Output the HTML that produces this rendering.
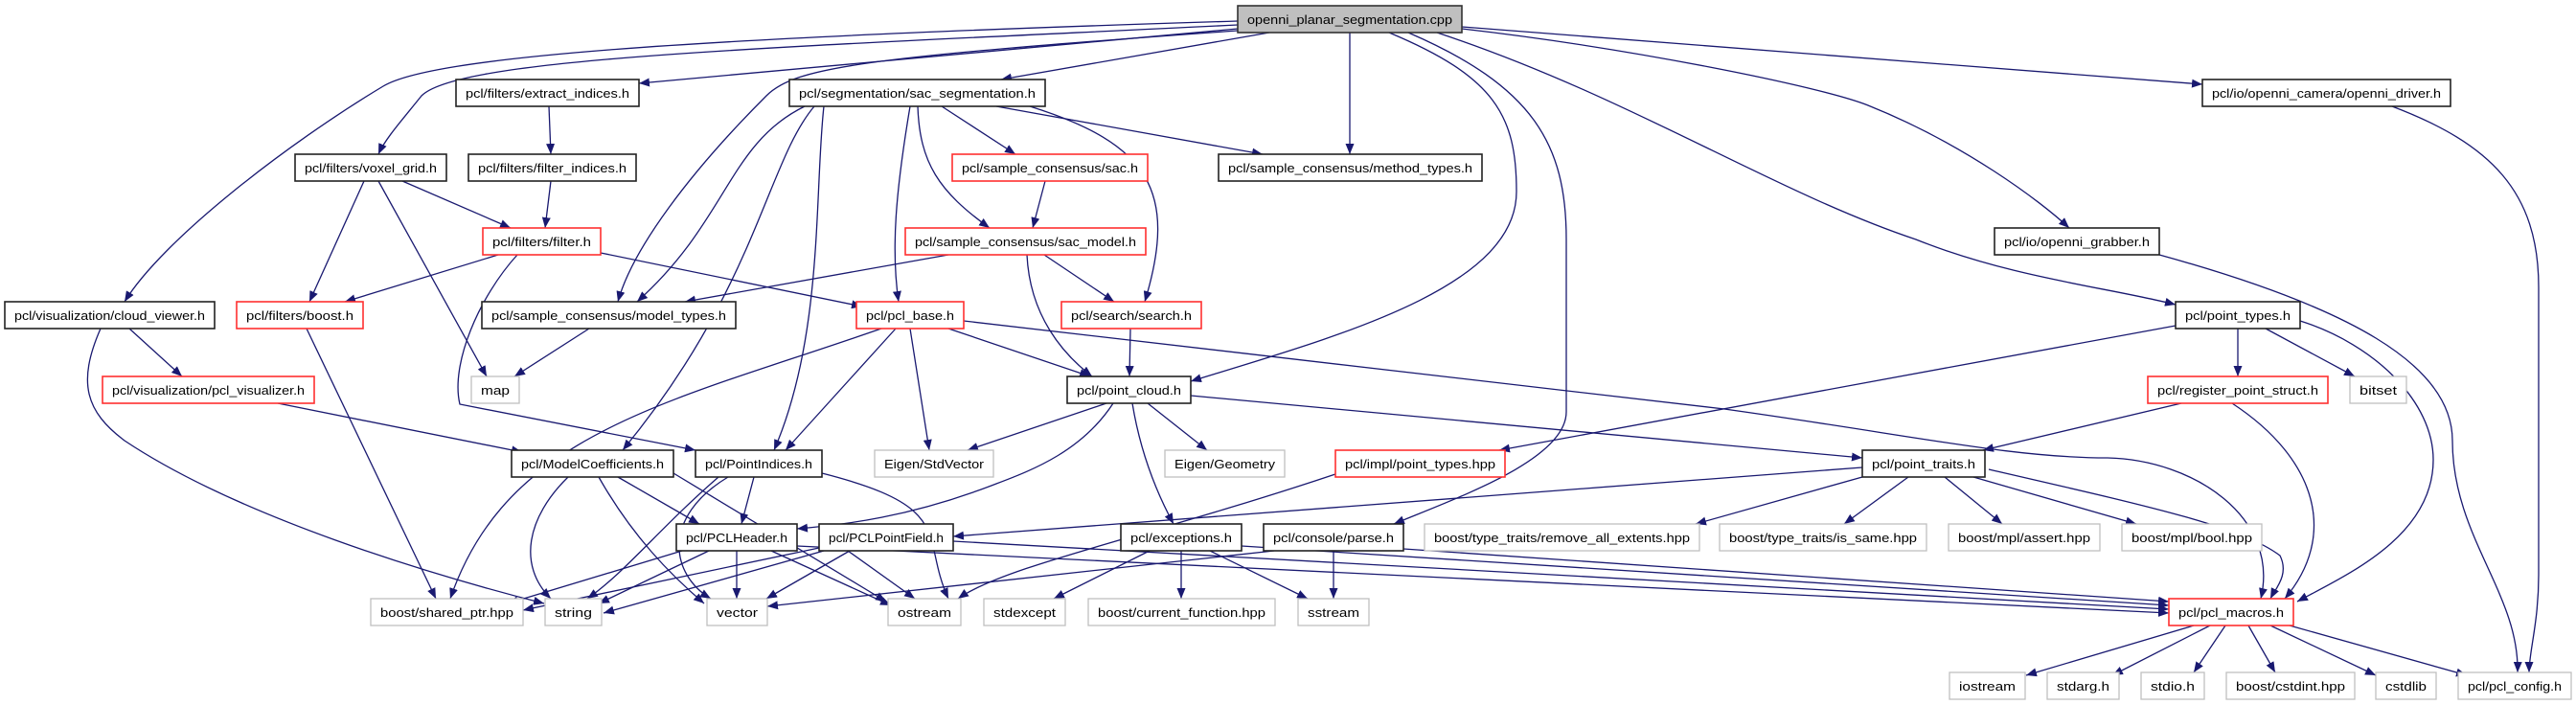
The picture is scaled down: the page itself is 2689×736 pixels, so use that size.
<!DOCTYPE html>
<html><head><meta charset="utf-8"><style>
html,body{margin:0;padding:0;background:#fff;}
svg{display:block;}
text{font-family:"Liberation Sans",sans-serif;font-size:13px;fill:#000;}
.e path{fill:none;stroke:#191970;stroke-width:1.3;marker-end:url(#a);}
.n rect{fill:#fff;stroke:#222;stroke-width:1.6;}
.n rect.r{stroke:#ff3030;}
.n rect.g{stroke:#bfbfbf;stroke-width:1.3;}
.n rect.root{fill:#bfbfbf;stroke:#333;}
</style></head><body>
<svg width="2689" height="736" viewBox="0 0 2689 736" xmlns="http://www.w3.org/2000/svg">
<defs><marker id="a" markerWidth="11" markerHeight="9" refX="11" refY="4.5" orient="auto" markerUnits="userSpaceOnUse"><path d="M0,0 L11,4.5 L0,9z" fill="#191970"/></marker></defs>
<g class="e">
<path d="M1292,22 C700,40 450,60 400,90 C300,150 170,250 130,315"/>
<path d="M1292,26 C800,50 480,60 440,100 C420,125 402,145 395,161"/>
<path d="M1292,30 L667,87"/>
<path d="M1292,32 C900,60 830,70 800,100 C720,180 660,260 645,315"/>
<path d="M1325,34 L1045,83"/>
<path d="M1409,34 L1409,161"/>
<path d="M1450,34 C1560,80 1583,120 1583,200 C1583,300 1400,350 1243,398"/>
<path d="M1470,34 C1600,90 1635,150 1635,250 L1635,430 C1635,480 1520,520 1455,547"/>
<path d="M1500,34 C1700,100 1850,200 2000,250 C2100,290 2200,300 2271,318"/>
<path d="M1526,30 C1700,50 1900,90 1950,110 C2050,150 2130,210 2160,238"/>
<path d="M1526,28 L2299,88"/>
<path d="M840,111 C760,150 760,230 665,315"/>
<path d="M850,111 C800,170 790,300 650,470"/>
<path d="M860,111 C850,200 860,350 808,470"/>
<path d="M950,111 C935,200 930,260 938,315"/>
<path d="M983,111 L1060,161"/>
<path d="M958,111 C960,170 980,200 1033,238"/>
<path d="M1075,111 C1200,150 1230,200 1195,315"/>
<path d="M1040,111 L1318,161"/>
<path d="M573,111 L575,161"/>
<path d="M575,189 L569,238"/>
<path d="M380,189 L323,315"/>
<path d="M395,189 L508,393"/>
<path d="M420,189 L533,238"/>
<path d="M520,266 L360,315"/>
<path d="M540,266 C500,310 470,380 480,422 L726,470"/>
<path d="M627,264 L900,320"/>
<path d="M1091,189 L1078,238"/>
<path d="M990,266 L715,315"/>
<path d="M1072,266 C1075,330 1110,370 1140,393"/>
<path d="M1090,266 L1163,315"/>
<path d="M1180,343 L1179,393"/>
<path d="M920,343 C700,420 530,450 470,625"/>
<path d="M935,343 L820,470"/>
<path d="M950,343 L970,470"/>
<path d="M990,343 L1138,393"/>
<path d="M1006,335 L1800,427 C2000,455 2100,478 2200,478 C2290,480 2380,540 2360,625"/>
<path d="M615,343 L537,393"/>
<path d="M135,343 L190,393"/>
<path d="M105,343 C80,400 90,430 130,460 C250,540 450,600 568,630"/>
<path d="M320,343 L455,625"/>
<path d="M290,421 L545,472"/>
<path d="M1155,421 L1010,470"/>
<path d="M1162,421 C1130,470 1080,490 1040,505 C950,540 880,548 832,552"/>
<path d="M1182,421 C1190,470 1205,510 1225,547"/>
<path d="M1198,421 L1260,470"/>
<path d="M1243,413 L1944,478"/>
<path d="M2497,111 C2600,150 2650,200 2650,300 L2650,600 C2650,650 2640,680 2640,702"/>
<path d="M2254,266 C2450,320 2560,380 2560,460 C2560,560 2630,620 2628,702"/>
<path d="M2271,340 L1565,470"/>
<path d="M2336,343 L2336,393"/>
<path d="M2365,343 L2458,393"/>
<path d="M2401,335 C2480,360 2540,420 2540,480 C2540,560 2450,600 2398,628"/>
<path d="M2330,421 C2420,480 2440,560 2385,625"/>
<path d="M2277,421 L2070,470"/>
<path d="M1394,495 C1200,560 1050,590 1000,625"/>
<path d="M1944,488 L995,560"/>
<path d="M1944,498 L1770,547"/>
<path d="M1992,498 L1925,547"/>
<path d="M2030,498 L2090,547"/>
<path d="M2060,498 L2230,547"/>
<path d="M2076,490 C2250,530 2340,550 2380,580 C2390,600 2375,615 2370,625"/>
<path d="M645,498 L730,547"/>
<path d="M593,498 C550,540 540,590 575,625"/>
<path d="M625,498 C660,560 700,600 735,630"/>
<path d="M703,494 L925,628"/>
<path d="M787,498 L774,547"/>
<path d="M750,498 C690,550 650,600 613,625"/>
<path d="M760,498 C690,540 700,600 742,625"/>
<path d="M858,494 C1000,530 960,560 990,625"/>
<path d="M712,575 L530,630"/>
<path d="M740,575 L625,630"/>
<path d="M769,575 L769,625"/>
<path d="M805,575 L930,632"/>
<path d="M832,570 L2264,640"/>
<path d="M860,575 L630,640"/>
<path d="M887,575 L800,625"/>
<path d="M885,575 L955,625"/>
<path d="M855,572 L546,637"/>
<path d="M995,565 L2264,636"/>
<path d="M1200,575 L1100,625"/>
<path d="M1233,575 L1233,625"/>
<path d="M1263,575 L1365,625"/>
<path d="M1296,570 L2264,632"/>
<path d="M1330,575 L801,633"/>
<path d="M1392,575 L1392,625"/>
<path d="M1465,573 L2264,628"/>
<path d="M2290,653 L2115,705"/>
<path d="M2307,653 L2205,705"/>
<path d="M2323,653 L2290,702"/>
<path d="M2347,653 L2375,702"/>
<path d="M2370,653 L2480,705"/>
<path d="M2390,653 L2575,705"/>
</g>
<g class="n">
<rect class="root" x="1292" y="6" width="234" height="28"/><text x="1409" y="25" text-anchor="middle" textLength="214" lengthAdjust="spacingAndGlyphs">openni_planar_segmentation.cpp</text>
<rect x="476" y="83" width="191" height="28"/><text x="571.5" y="102" text-anchor="middle" textLength="171" lengthAdjust="spacingAndGlyphs">pcl/filters/extract_indices.h</text>
<rect x="824" y="83" width="267" height="28"/><text x="957.5" y="102" text-anchor="middle" textLength="247" lengthAdjust="spacingAndGlyphs">pcl/segmentation/sac_segmentation.h</text>
<rect x="2299" y="83" width="259" height="28"/><text x="2428.5" y="102" text-anchor="middle" textLength="239" lengthAdjust="spacingAndGlyphs">pcl/io/openni_camera/openni_driver.h</text>
<rect x="308" y="161" width="158" height="28"/><text x="387" y="180" text-anchor="middle" textLength="138" lengthAdjust="spacingAndGlyphs">pcl/filters/voxel_grid.h</text>
<rect x="489" y="161" width="175" height="28"/><text x="576.5" y="180" text-anchor="middle" textLength="155" lengthAdjust="spacingAndGlyphs">pcl/filters/filter_indices.h</text>
<rect class="r" x="994" y="161" width="204" height="28"/><text x="1096" y="180" text-anchor="middle" textLength="184" lengthAdjust="spacingAndGlyphs">pcl/sample_consensus/sac.h</text>
<rect x="1272" y="161" width="275" height="28"/><text x="1409.5" y="180" text-anchor="middle" textLength="255" lengthAdjust="spacingAndGlyphs">pcl/sample_consensus/method_types.h</text>
<rect class="r" x="504" y="238" width="123" height="28"/><text x="565.5" y="257" text-anchor="middle" textLength="103" lengthAdjust="spacingAndGlyphs">pcl/filters/filter.h</text>
<rect class="r" x="945" y="238" width="251" height="28"/><text x="1070.5" y="257" text-anchor="middle" textLength="231" lengthAdjust="spacingAndGlyphs">pcl/sample_consensus/sac_model.h</text>
<rect x="2082" y="238" width="172" height="28"/><text x="2168" y="257" text-anchor="middle" textLength="152" lengthAdjust="spacingAndGlyphs">pcl/io/openni_grabber.h</text>
<rect x="5" y="315" width="219" height="28"/><text x="114.5" y="334" text-anchor="middle" textLength="199" lengthAdjust="spacingAndGlyphs">pcl/visualization/cloud_viewer.h</text>
<rect class="r" x="247" y="315" width="132" height="28"/><text x="313" y="334" text-anchor="middle" textLength="112" lengthAdjust="spacingAndGlyphs">pcl/filters/boost.h</text>
<rect x="503" y="315" width="265" height="28"/><text x="635.5" y="334" text-anchor="middle" textLength="245" lengthAdjust="spacingAndGlyphs">pcl/sample_consensus/model_types.h</text>
<rect class="r" x="894" y="315" width="112" height="28"/><text x="950" y="334" text-anchor="middle" textLength="92" lengthAdjust="spacingAndGlyphs">pcl/pcl_base.h</text>
<rect class="r" x="1108" y="315" width="146" height="28"/><text x="1181" y="334" text-anchor="middle" textLength="126" lengthAdjust="spacingAndGlyphs">pcl/search/search.h</text>
<rect x="2271" y="315" width="130" height="28"/><text x="2336" y="334" text-anchor="middle" textLength="110" lengthAdjust="spacingAndGlyphs">pcl/point_types.h</text>
<rect class="r" x="107" y="393" width="221" height="28"/><text x="217.5" y="412" text-anchor="middle" textLength="201" lengthAdjust="spacingAndGlyphs">pcl/visualization/pcl_visualizer.h</text>
<rect class="g" x="492" y="393" width="50" height="28"/><text x="517" y="412" text-anchor="middle" textLength="30" lengthAdjust="spacingAndGlyphs">map</text>
<rect x="1114" y="393" width="129" height="28"/><text x="1178.5" y="412" text-anchor="middle" textLength="109" lengthAdjust="spacingAndGlyphs">pcl/point_cloud.h</text>
<rect class="r" x="2242" y="393" width="188" height="28"/><text x="2336" y="412" text-anchor="middle" textLength="168" lengthAdjust="spacingAndGlyphs">pcl/register_point_struct.h</text>
<rect class="g" x="2453" y="393" width="59" height="28"/><text x="2482.5" y="412" text-anchor="middle" textLength="39" lengthAdjust="spacingAndGlyphs">bitset</text>
<rect x="534" y="470" width="169" height="28"/><text x="618.5" y="489" text-anchor="middle" textLength="149" lengthAdjust="spacingAndGlyphs">pcl/ModelCoefficients.h</text>
<rect x="726" y="470" width="132" height="28"/><text x="792" y="489" text-anchor="middle" textLength="112" lengthAdjust="spacingAndGlyphs">pcl/PointIndices.h</text>
<rect class="g" x="913" y="470" width="124" height="28"/><text x="975" y="489" text-anchor="middle" textLength="104" lengthAdjust="spacingAndGlyphs">Eigen/StdVector</text>
<rect class="g" x="1216" y="470" width="125" height="28"/><text x="1278.5" y="489" text-anchor="middle" textLength="105" lengthAdjust="spacingAndGlyphs">Eigen/Geometry</text>
<rect class="r" x="1394" y="470" width="177" height="28"/><text x="1482.5" y="489" text-anchor="middle" textLength="157" lengthAdjust="spacingAndGlyphs">pcl/impl/point_types.hpp</text>
<rect x="1944" y="470" width="128" height="28"/><text x="2008" y="489" text-anchor="middle" textLength="108" lengthAdjust="spacingAndGlyphs">pcl/point_traits.h</text>
<rect x="706" y="547" width="126" height="28"/><text x="769" y="566" text-anchor="middle" textLength="106" lengthAdjust="spacingAndGlyphs">pcl/PCLHeader.h</text>
<rect x="855" y="547" width="140" height="28"/><text x="925" y="566" text-anchor="middle" textLength="120" lengthAdjust="spacingAndGlyphs">pcl/PCLPointField.h</text>
<rect x="1170" y="547" width="126" height="28"/><text x="1233" y="566" text-anchor="middle" textLength="106" lengthAdjust="spacingAndGlyphs">pcl/exceptions.h</text>
<rect x="1319" y="547" width="146" height="28"/><text x="1392" y="566" text-anchor="middle" textLength="126" lengthAdjust="spacingAndGlyphs">pcl/console/parse.h</text>
<rect class="g" x="1487" y="547" width="287" height="28"/><text x="1630.5" y="566" text-anchor="middle" textLength="267" lengthAdjust="spacingAndGlyphs">boost/type_traits/remove_all_extents.hpp</text>
<rect class="g" x="1795" y="547" width="216" height="28"/><text x="1903" y="566" text-anchor="middle" textLength="196" lengthAdjust="spacingAndGlyphs">boost/type_traits/is_same.hpp</text>
<rect class="g" x="2034" y="547" width="158" height="28"/><text x="2113" y="566" text-anchor="middle" textLength="138" lengthAdjust="spacingAndGlyphs">boost/mpl/assert.hpp</text>
<rect class="g" x="2215" y="547" width="146" height="28"/><text x="2288" y="566" text-anchor="middle" textLength="126" lengthAdjust="spacingAndGlyphs">boost/mpl/bool.hpp</text>
<rect class="g" x="387" y="625" width="159" height="28"/><text x="466.5" y="644" text-anchor="middle" textLength="139" lengthAdjust="spacingAndGlyphs">boost/shared_ptr.hpp</text>
<rect class="g" x="569" y="625" width="59" height="28"/><text x="598.5" y="644" text-anchor="middle" textLength="39" lengthAdjust="spacingAndGlyphs">string</text>
<rect class="g" x="738" y="625" width="63" height="28"/><text x="769.5" y="644" text-anchor="middle" textLength="43" lengthAdjust="spacingAndGlyphs">vector</text>
<rect class="g" x="927" y="625" width="76" height="28"/><text x="965" y="644" text-anchor="middle" textLength="56" lengthAdjust="spacingAndGlyphs">ostream</text>
<rect class="g" x="1027" y="625" width="85" height="28"/><text x="1069.5" y="644" text-anchor="middle" textLength="65" lengthAdjust="spacingAndGlyphs">stdexcept</text>
<rect class="g" x="1136" y="625" width="195" height="28"/><text x="1233.5" y="644" text-anchor="middle" textLength="175" lengthAdjust="spacingAndGlyphs">boost/current_function.hpp</text>
<rect class="g" x="1355" y="625" width="74" height="28"/><text x="1392" y="644" text-anchor="middle" textLength="54" lengthAdjust="spacingAndGlyphs">sstream</text>
<rect class="r" x="2264" y="625" width="130" height="28"/><text x="2329" y="644" text-anchor="middle" textLength="110" lengthAdjust="spacingAndGlyphs">pcl/pcl_macros.h</text>
<rect class="g" x="2035" y="702" width="79" height="28"/><text x="2074.5" y="721" text-anchor="middle" textLength="59" lengthAdjust="spacingAndGlyphs">iostream</text>
<rect class="g" x="2137" y="702" width="75" height="28"/><text x="2174.5" y="721" text-anchor="middle" textLength="55" lengthAdjust="spacingAndGlyphs">stdarg.h</text>
<rect class="g" x="2235" y="702" width="66" height="28"/><text x="2268" y="721" text-anchor="middle" textLength="46" lengthAdjust="spacingAndGlyphs">stdio.h</text>
<rect class="g" x="2324" y="702" width="134" height="28"/><text x="2391" y="721" text-anchor="middle" textLength="114" lengthAdjust="spacingAndGlyphs">boost/cstdint.hpp</text>
<rect class="g" x="2480" y="702" width="63" height="28"/><text x="2511.5" y="721" text-anchor="middle" textLength="43" lengthAdjust="spacingAndGlyphs">cstdlib</text>
<rect class="g" x="2566" y="702" width="118" height="28"/><text x="2625" y="721" text-anchor="middle" textLength="98" lengthAdjust="spacingAndGlyphs">pcl/pcl_config.h</text>
</g>
</svg>
</body></html>
